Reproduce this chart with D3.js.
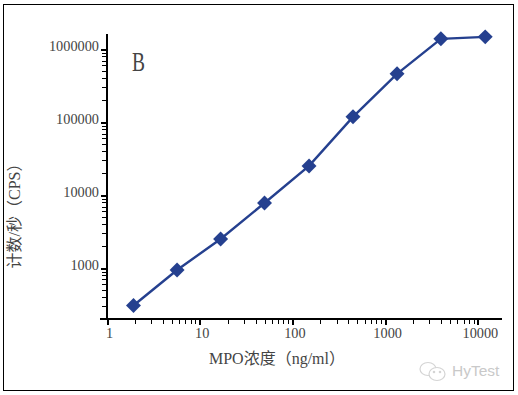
<!DOCTYPE html>
<html lang="zh">
<head>
<meta charset="utf-8">
<title>MPO</title>
<script src="https://cdn.jsdelivr.net/npm/d3@7"></script>
<style>
body { margin: 0; background: #fff; }
svg { display: block; }
text { font-family: "Liberation Serif", serif; fill: #444; }
.axis path, .axis line { stroke: #000; fill: none; shape-rendering: crispEdges; }
.axis text { font-size: 14.3px; }
.cjk { font-family: "Liberation Serif", "Noto Sans CJK SC", serif; font-size: 16px; }
</style>
</head>
<body>
<div id="chart"></div>
<script>
var concentration = [1.93, 5.7, 16.8, 50, 151, 450, 1343, 3990, 12000];
var counts = [308, 945, 2510, 7830, 25200, 118600, 461000, 1390000, 1480000];
var xMajor = [1, 10, 100, 1000, 10000];
var yMajor = [1000, 10000, 100000, 1000000];
var xMinor = [2, 3, 4, 5, 6, 7, 8, 9, 20, 30, 40, 50, 60, 70, 80, 90, 200, 300, 400, 500, 600, 700, 800, 900, 2000, 3000, 4000, 5000, 6000, 7000, 8000, 9000];
var yMinor = [300, 400, 500, 600, 700, 800, 900, 2000, 3000, 4000, 5000, 6000, 7000, 8000, 9000, 20000, 30000, 40000, 50000, 60000, 70000, 80000, 90000, 200000, 300000, 400000, 500000, 600000, 700000, 800000, 900000];

var width = 518, height = 395;
var left = 107, right = 502, top_ = 34, bottom = 319;

var svg = d3.select("#chart").append("svg")
    .attr("width", width)
    .attr("height", height);

// outer frame
svg.append("rect")
    .attr("x", 3.5).attr("y", 4.5)
    .attr("width", 510).attr("height", 386)
    .attr("fill", "none").attr("stroke", "#000").attr("stroke-width", 1);

var x = d3.scaleLog().domain([1, 18200]).range([left, right]);
var y = d3.scaleLog().domain([201, 1620000]).range([bottom, top_]);

// minor ticks first, majors on top
svg.append("g").attr("class", "axis")
    .attr("transform", "translate(0," + bottom + ")")
    .call(d3.axisBottom(x).tickValues(xMinor).tickSize(5).tickFormat(""))
    .call(function(g) { g.select(".domain").remove(); });
svg.append("g").attr("class", "axis")
    .attr("transform", "translate(" + left + ",0)")
    .call(d3.axisLeft(y).tickValues(yMinor).tickSize(5).tickFormat(""))
    .call(function(g) { g.select(".domain").remove(); });

var xAxis = svg.append("g").attr("class", "axis")
    .attr("transform", "translate(0," + bottom + ")")
    .call(d3.axisBottom(x).tickValues(xMajor).tickSize(6).tickPadding(3).tickFormat(d3.format("d")));
xAxis.select(".domain").remove();
xAxis.selectAll("line").attr("stroke-width", 2);
xAxis.selectAll("text").attr("dx", 2);

var yAxis = svg.append("g").attr("class", "axis")
    .attr("transform", "translate(" + left + ",0)")
    .call(d3.axisLeft(y).tickValues(yMajor).tickSize(6).tickPadding(2).tickFormat(d3.format("d")));
yAxis.select(".domain").remove();
yAxis.selectAll("line").attr("stroke-width", 2);
yAxis.selectAll("text").attr("dy", "0.1em");

// axis lines, x one runs past the y axis
svg.append("line").attr("x1", 100).attr("x2", right).attr("y1", bottom).attr("y2", bottom)
    .attr("stroke", "#000").attr("stroke-width", 2).attr("shape-rendering", "crispEdges");
svg.append("line").attr("x1", left).attr("x2", left).attr("y1", top_).attr("y2", bottom)
    .attr("stroke", "#000").attr("stroke-width", 2).attr("shape-rendering", "crispEdges");

var line = d3.line()
    .x(function(d, i) { return x(concentration[i]); })
    .y(function(d) { return y(d); });

svg.append("path")
    .datum(counts)
    .attr("d", line)
    .attr("fill", "none")
    .attr("stroke", "#25408f")
    .attr("stroke-width", 2.4);

svg.selectAll(".pt")
    .data(counts)
    .enter()
    .append("path")
    .attr("class", "pt")
    .attr("d", d3.symbol(d3.symbolSquare, 112))
    .attr("transform", function(d, i) { return "translate(" + x(concentration[i]) + "," + y(d) + ") rotate(45)"; })
    .attr("fill", "#25408f");

svg.append("text")
    .attr("transform", "translate(132,71) scale(0.72,1)")
    .attr("font-size", 27)
    .text("B");

svg.append("text")
    .attr("class", "cjk")
    .attr("x", 277).attr("y", 364)
    .attr("text-anchor", "middle")
    .text("MPO浓度（ng/ml）");

svg.append("text")
    .attr("class", "cjk")
    .attr("transform", "translate(20,212) rotate(-90)")
    .attr("text-anchor", "middle")
    .text("计数/秒（CPS）");

// watermark
var mark = svg.append("g").attr("stroke", "#d4d4d4").attr("stroke-width", 1.2);
mark.append("ellipse").attr("cx", 428).attr("cy", 369).attr("rx", 8).attr("ry", 6.5).attr("fill", "none");
mark.append("ellipse").attr("cx", 437).attr("cy", 374).attr("rx", 8).attr("ry", 6.5).attr("fill", "#fff");
mark.append("circle").attr("cx", 434).attr("cy", 372).attr("r", 0.7).attr("fill", "#d4d4d4");
mark.append("circle").attr("cx", 440).attr("cy", 372).attr("r", 0.7).attr("fill", "#d4d4d4");
svg.append("text")
    .attr("x", 452).attr("y", 376)
    .style("font-family", "'Liberation Sans', sans-serif")
    .style("fill", "#c9c9c9")
    .attr("font-size", 15.5)
    .text("HyTest");
</script>
</body>
</html>
